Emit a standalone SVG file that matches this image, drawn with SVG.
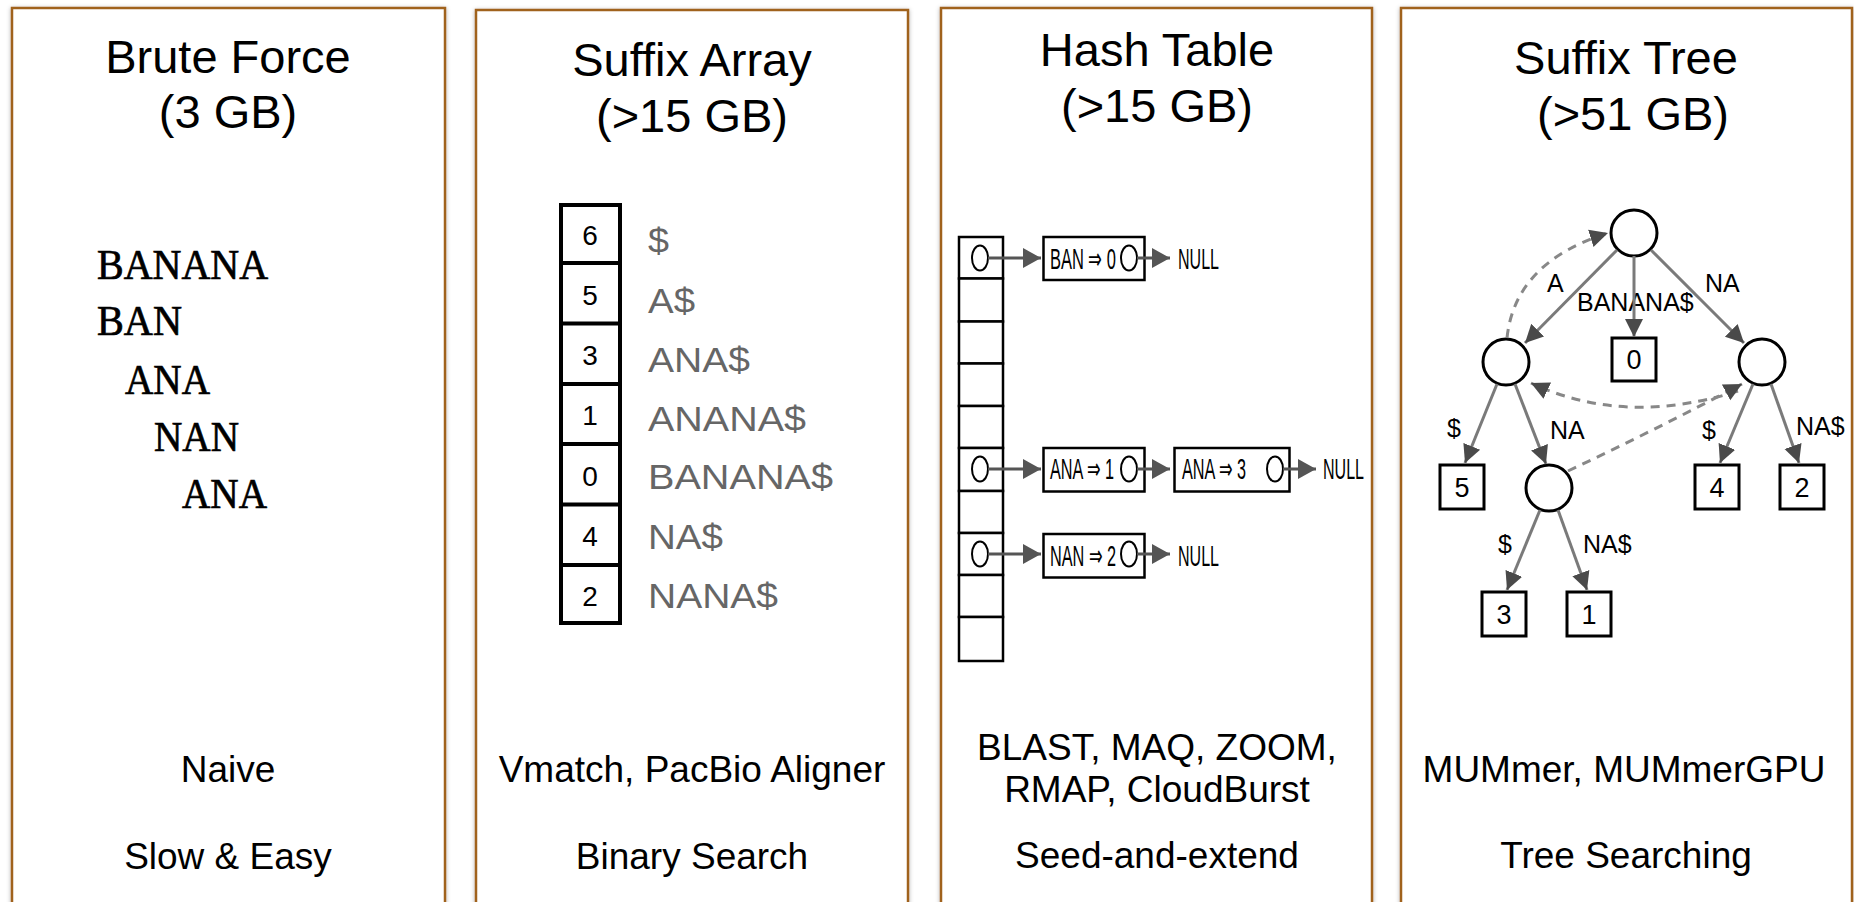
<svg xmlns="http://www.w3.org/2000/svg" width="1854" height="902" viewBox="0 0 1854 902">
<defs>
<filter id="sh" x="-5%" y="-5%" width="110%" height="110%">
<feDropShadow dx="0" dy="1" stdDeviation="2" flood-color="#000" flood-opacity="0.3"/>
</filter>
<marker id="ah" markerUnits="userSpaceOnUse" markerWidth="20" markerHeight="20" refX="18" refY="10" orient="auto">
<path d="M0,1 L18,10 L0,19 z" fill="#4a4a4a"/>
</marker>
<marker id="hh" markerUnits="userSpaceOnUse" markerWidth="20" markerHeight="22" refX="18" refY="11" orient="auto">
<path d="M0,1 L18,11 L0,21 z" fill="#555"/>
</marker>
</defs>
<style>
.frame{fill:#fff;stroke:#a0621f;stroke-width:2.5}
.title{font-family:"Liberation Sans",Arial,sans-serif;font-size:47px;fill:#000;text-anchor:middle}
.foot{font-family:"Liberation Sans",Arial,sans-serif;font-size:37px;fill:#000;text-anchor:middle}
.mono{font-family:"Liberation Serif","Times New Roman",serif;font-size:42px;fill:#000;stroke:#000;stroke-width:0.7}
.sacell{fill:#fff;stroke:#000;stroke-width:4}
.sanum{font-family:"Liberation Sans",Arial,sans-serif;font-size:28px;fill:#000;text-anchor:middle}
.satxt{font-family:"Liberation Sans",Arial,sans-serif;font-size:35px;fill:#666}
.hcell{fill:#fff;stroke:#000;stroke-width:2.5}
.hptr{fill:#fff;stroke:#000;stroke-width:2}
.htxt{font-family:"Liberation Sans",Arial,sans-serif;font-size:30px;fill:#000}
.harr{stroke:#555;stroke-width:3;fill:none;marker-end:url(#hh)}
.tnode{fill:#fff;stroke:#000;stroke-width:3}
.tleaf{fill:#fff;stroke:#000;stroke-width:3}
.tnum{font-family:"Liberation Sans",Arial,sans-serif;font-size:27px;fill:#000;text-anchor:middle}
.tlbl{font-family:"Liberation Sans",Arial,sans-serif;font-size:25px;fill:#000}
.tedge{stroke:#7a7a7a;stroke-width:3;fill:none;marker-end:url(#ah)}
.tlink{stroke:#888;stroke-width:3;fill:none;stroke-dasharray:9,7;marker-end:url(#ah)}
</style>

<g id="panel-brute">
<rect class="frame" x="12" y="8" width="433" height="920" filter="url(#sh)"/>
<text class="title" x="228" y="73">Brute Force</text>
<text class="title" x="228" y="128">(3 GB)</text>
<text class="mono" x="97" y="279" textLength="171" lengthAdjust="spacingAndGlyphs">BANANA</text>
<text class="mono" x="97" y="335" textLength="85" lengthAdjust="spacingAndGlyphs">BAN</text>
<text class="mono" x="125" y="394" textLength="85" lengthAdjust="spacingAndGlyphs">ANA</text>
<text class="mono" x="154" y="451" textLength="85" lengthAdjust="spacingAndGlyphs">NAN</text>
<text class="mono" x="182" y="508" textLength="85" lengthAdjust="spacingAndGlyphs">ANA</text>
<text class="foot" x="228" y="782">Naive</text>
<text class="foot" x="228" y="869">Slow &amp; Easy</text>
</g>

<g id="panel-suffix-array">
<rect class="frame" x="476" y="10" width="432" height="920" filter="url(#sh)"/>
<text class="title" x="692" y="76">Suffix Array</text>
<text class="title" x="692" y="132">(&gt;15 GB)</text>
<g id="sa-cells">
<rect class="sacell" x="561" y="205" width="59" height="418"/>
<line x1="561" y1="263" x2="620" y2="263" stroke="#000" stroke-width="4"/>
<line x1="561" y1="323.5" x2="620" y2="323.5" stroke="#000" stroke-width="4"/>
<line x1="561" y1="384" x2="620" y2="384" stroke="#000" stroke-width="4"/>
<line x1="561" y1="444" x2="620" y2="444" stroke="#000" stroke-width="4"/>
<line x1="561" y1="504.5" x2="620" y2="504.5" stroke="#000" stroke-width="4"/>
<line x1="561" y1="565" x2="620" y2="565" stroke="#000" stroke-width="4"/>
<text class="sanum" x="590" y="245">6</text>
<text class="sanum" x="590" y="305">5</text>
<text class="sanum" x="590" y="365">3</text>
<text class="sanum" x="590" y="425">1</text>
<text class="sanum" x="590" y="486">0</text>
<text class="sanum" x="590" y="546">4</text>
<text class="sanum" x="590" y="606">2</text>
</g>
<text class="satxt" x="648" y="253" textLength="21" lengthAdjust="spacingAndGlyphs">$</text>
<text class="satxt" x="648" y="313" textLength="47" lengthAdjust="spacingAndGlyphs">A$</text>
<text class="satxt" x="648" y="372" textLength="102" lengthAdjust="spacingAndGlyphs">ANA$</text>
<text class="satxt" x="648" y="431" textLength="158" lengthAdjust="spacingAndGlyphs">ANANA$</text>
<text class="satxt" x="648" y="489" textLength="185" lengthAdjust="spacingAndGlyphs">BANANA$</text>
<text class="satxt" x="648" y="549" textLength="75" lengthAdjust="spacingAndGlyphs">NA$</text>
<text class="satxt" x="648" y="608" textLength="130" lengthAdjust="spacingAndGlyphs">NANA$</text>
<text class="foot" x="692" y="782">Vmatch, PacBio Aligner</text>
<text class="foot" x="692" y="869">Binary Search</text>
</g>

<g id="panel-hash-table">
<rect class="frame" x="941" y="8" width="431" height="920" filter="url(#sh)"/>
<text class="title" x="1157" y="66">Hash Table</text>
<text class="title" x="1157" y="122">(&gt;15 GB)</text>
<g id="ht-buckets">
<rect class="hcell" x="959" y="237" width="44" height="41.5"/>
<rect class="hcell" x="959" y="278.5" width="44" height="43"/>
<rect class="hcell" x="959" y="321.5" width="44" height="42"/>
<rect class="hcell" x="959" y="363.5" width="44" height="42.5"/>
<rect class="hcell" x="959" y="406" width="44" height="42"/>
<rect class="hcell" x="959" y="448" width="44" height="43"/>
<rect class="hcell" x="959" y="491" width="44" height="42"/>
<rect class="hcell" x="959" y="533" width="44" height="42"/>
<rect class="hcell" x="959" y="575" width="44" height="42"/>
<rect class="hcell" x="959" y="617" width="44" height="44"/>
<ellipse class="hptr" cx="980" cy="258" rx="8" ry="12.5"/>
<ellipse class="hptr" cx="980" cy="469" rx="8" ry="12.5"/>
<ellipse class="hptr" cx="980" cy="554" rx="8" ry="12.5"/>
</g>
<g id="ht-entry-ban">
<rect class="hcell" x="1043.5" y="237" width="101" height="43"/>
<text class="htxt" x="1050" y="269" textLength="66" lengthAdjust="spacingAndGlyphs">BAN ⇒ 0</text>
<ellipse class="hptr" cx="1129" cy="258" rx="8" ry="12.5"/>
<text class="htxt" x="1178" y="269" textLength="41" lengthAdjust="spacingAndGlyphs">NULL</text>
</g>
<g id="ht-entry-ana1">
<rect class="hcell" x="1043.5" y="448" width="101" height="43.5"/>
<text class="htxt" x="1050" y="479" textLength="64" lengthAdjust="spacingAndGlyphs">ANA ⇒ 1</text>
<ellipse class="hptr" cx="1129" cy="469" rx="8" ry="12.5"/>
</g>
<g id="ht-entry-ana3">
<rect class="hcell" x="1174.5" y="448" width="115" height="43.5"/>
<text class="htxt" x="1182" y="479" textLength="64" lengthAdjust="spacingAndGlyphs">ANA ⇒ 3</text>
<ellipse class="hptr" cx="1275" cy="469" rx="8" ry="12.5"/>
<text class="htxt" x="1323" y="479" textLength="41" lengthAdjust="spacingAndGlyphs">NULL</text>
</g>
<g id="ht-entry-nan">
<rect class="hcell" x="1043.5" y="534" width="101" height="43.5"/>
<text class="htxt" x="1050" y="566" textLength="66" lengthAdjust="spacingAndGlyphs">NAN ⇒ 2</text>
<ellipse class="hptr" cx="1129" cy="554" rx="8" ry="12.5"/>
<text class="htxt" x="1178" y="566" textLength="41" lengthAdjust="spacingAndGlyphs">NULL</text>
</g>
<text class="foot" x="1157" y="760">BLAST, MAQ, ZOOM,</text>
<text class="foot" x="1157" y="802">RMAP, CloudBurst</text>
<text class="foot" x="1157" y="868">Seed-and-extend</text>
</g>

<g id="panel-suffix-tree">
<rect class="frame" x="1401" y="8" width="451" height="920" filter="url(#sh)"/>
<text class="title" x="1626" y="74">Suffix Tree</text>
<text class="title" x="1633" y="130">(&gt;51 GB)</text>
<g id="st-root"><circle class="tnode" cx="1634" cy="233" r="23"/></g>
<g id="st-a"><circle class="tnode" cx="1506" cy="362" r="23"/></g>
<g id="st-na"><circle class="tnode" cx="1762" cy="362" r="23"/></g>
<g id="st-ana"><circle class="tnode" cx="1549" cy="488" r="23"/></g>
<g id="st-leaf0"><rect class="tleaf" x="1612" y="338" width="44" height="43"/><text class="tnum" x="1634" y="369">0</text></g>
<g id="st-leaf5"><rect class="tleaf" x="1440" y="465" width="44" height="44"/><text class="tnum" x="1462" y="497">5</text></g>
<g id="st-leaf4"><rect class="tleaf" x="1695" y="465" width="44" height="44"/><text class="tnum" x="1717" y="497">4</text></g>
<g id="st-leaf2"><rect class="tleaf" x="1780" y="465" width="44" height="44"/><text class="tnum" x="1802" y="497">2</text></g>
<g id="st-leaf3"><rect class="tleaf" x="1482" y="592" width="44" height="44"/><text class="tnum" x="1504" y="624">3</text></g>
<g id="st-leaf1"><rect class="tleaf" x="1567" y="592" width="44" height="44"/><text class="tnum" x="1589" y="624">1</text></g>
<text class="tlbl" x="1547" y="292">A</text>
<text class="tlbl" x="1577" y="311">BANANA$</text>
<text class="tlbl" x="1705" y="292">NA</text>
<text class="tlbl" x="1447" y="437">$</text>
<text class="tlbl" x="1550" y="439">NA</text>
<text class="tlbl" x="1702" y="439">$</text>
<text class="tlbl" x="1796" y="435">NA$</text>
<text class="tlbl" x="1498" y="553">$</text>
<text class="tlbl" x="1583" y="553">NA$</text>
<text class="foot" x="1624" y="782">MUMmer, MUMmerGPU</text>
<text class="foot" x="1626" y="868">Tree Searching</text>
</g>

<g id="connectors">
<line class="harr" x1="988" y1="258" x2="1041" y2="258"/>
<line class="harr" x1="988" y1="469" x2="1041" y2="469"/>
<line class="harr" x1="988" y1="554" x2="1041" y2="554"/>
<line class="harr" x1="1137" y1="258" x2="1170" y2="258"/>
<line class="harr" x1="1137" y1="469" x2="1170" y2="469"/>
<line class="harr" x1="1137" y1="554" x2="1170" y2="554"/>
<line class="harr" x1="1283" y1="469" x2="1316" y2="469"/>
<line class="tedge" x1="1617" y1="250" x2="1525" y2="343"/>
<line class="tedge" x1="1634" y1="256" x2="1634" y2="337"/>
<line class="tedge" x1="1651" y1="250" x2="1744" y2="343"/>
<line class="tedge" x1="1497" y1="384" x2="1465" y2="463"/>
<line class="tedge" x1="1515" y1="384" x2="1546" y2="464"/>
<line class="tedge" x1="1753" y1="384" x2="1720" y2="463"/>
<line class="tedge" x1="1771" y1="384" x2="1799" y2="463"/>
<line class="tedge" x1="1540" y1="510" x2="1507" y2="590"/>
<line class="tedge" x1="1558" y1="510" x2="1587" y2="590"/>
<path class="tlink" d="M1507,338 Q1515,262 1608,233"/>
<path class="tlink" d="M1738,391 Q1625,427 1531,383"/>
<path class="tlink" d="M1568,471 Q1655,430 1742,384"/>
</g>
</svg>
